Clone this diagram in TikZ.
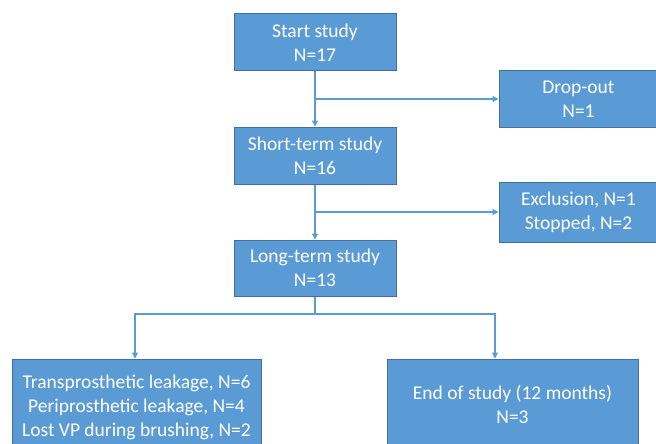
\documentclass[tikz,border=0pt]{standalone}
\usepackage{fontspec}
\setmainfont{Carlito}
\usetikzlibrary{arrows.meta}
\definecolor{box fill}{HTML}{5B9BD5}
\definecolor{box edge}{HTML}{41719C}
\colorlet{flow line}{box fill}
\tikzset{stage/.style={fill=box fill, draw=box edge, line width=1pt, text=white,
	align=center, inner sep=0pt, font=\fontsize{19.5}{24}\selectfont},
	flow/.style={draw=flow line, line width=1.2pt, -{Triangle[length=6pt,width=6pt]}}}

\begin{document}
\begin{tikzpicture}[x=1pt,y=-1pt]
		\useasboundingbox (0,0) rectangle (656,444);
		\clip (0,0) rectangle (656,444);
		\fill[white] (0,0) rectangle (656,444);
		\node[stage, minimum width=162pt, minimum height=57pt] (start) at (315,42.5) {Start study\\N=17};
		\node[stage, minimum width=162pt, minimum height=57pt] (short) at (315,155.5) {Short-term study\\N=16};
		\node[stage, minimum width=162pt, minimum height=56pt] (long) at (315,268) {Long-term study\\N=13};
		\node[stage, minimum width=159pt, minimum height=56pt] (dropout) at (578.5,99) {Drop-out\\N=1};
		\node[stage, minimum width=159pt, minimum height=60pt] (excl) at (578.5,212) {Exclusion, N=1\\Stopped, N=2};
		\node[stage, minimum width=249pt, minimum height=96pt] (leak) at (136.5,407) {Transprosthetic leakage, N=6\\Periprosthetic leakage, N=4\\Lost VP during brushing, N=2};
		\node[stage, minimum width=251pt, minimum height=90pt] (endstudy) at (512.5,404) {End of study (12 months)\\N=3};
		
		\draw[flow] (start) -- (short);
		\draw[flow] (start.south |- dropout.west) -- (dropout);
		\draw[flow] (short) -- (long);
		\draw[flow] (short.south |- excl.west) -- (excl);
		\coordinate (split) at (315,314);
		\draw[flow] (long.south) -- (split) -| ([xshift=-1.5pt]leak.north);
		\draw[flow] (split) -| ([xshift=-17.5pt]endstudy.north);
		\end{tikzpicture}
\end{document}
